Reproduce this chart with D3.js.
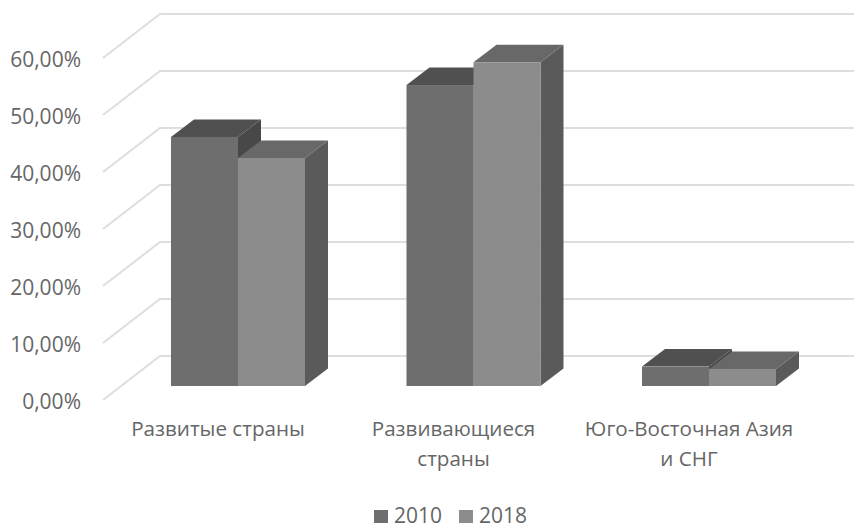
<!DOCTYPE html>
<html>
<head>
<meta charset="utf-8">
<script src="https://cdn.jsdelivr.net/npm/d3@7"></script>
<style>
  html, body { margin: 0; background: #fff; }
  svg { display: block; font-family: "Open Sans", sans-serif; }
  text { fill: #666; }
</style>
</head>
<body>
<script>
// Chart values
const categories = ["Развитые страны", "Развивающиеся страны", "Юго-Восточная Азия и СНГ"];
const categoryLines = [["Развитые страны"], ["Развивающиеся", "страны"], ["Юго-Восточная Азия", "и СНГ"]];
const years = ["2010", "2018"];
const values2010 = [43.7, 52.8, 3.4];
const values2018 = [40.0, 56.8, 3.0];
const tickValues = [0, 10, 20, 30, 40, 50, 60];

const width = 854, height = 525;

// Oblique offset of the fake 3D
const barDepth = [23, -17.5];
const wallDepth = [57, -44];

const svg = d3.select("body").append("svg")
  .attr("width", width)
  .attr("height", height);

// Front edge of the floor, bars stand a bit further in
const yFront = d3.scaleLinear().domain([0, 60]).range([400, 58]);
const yBar = d3.scaleLinear().domain([0, 60]).range([386, 44]);

const xGroup = d3.scaleBand()
  .domain(categories)
  .range([120.25, 826.75])
  .paddingInner(0.431)
  .paddingOuter(0.2155);

const xYear = d3.scaleBand()
  .domain(years)
  .range([0, xGroup.bandwidth()]);

const fills = {
  "2010": { front: "#6e6e6e", top: "#505050", side: "#484848" },
  "2018": { front: "#8c8c8c", top: "#686868", side: "#5a5a5a" }
};

// Gridlines: short slanted piece on the side wall, then along the back wall
const xWall = 103;
svg.append("g").selectAll("path")
  .data(tickValues)
  .join("path")
  .attr("fill", "none")
  .attr("stroke", "#dedede")
  .attr("stroke-width", 2)
  .attr("d", d => d3.line()([
    [xWall, yFront(d)],
    [xWall + wallDepth[0], yFront(d) + wallDepth[1]],
    [width, yFront(d) + wallDepth[1]]
  ]));

// Y axis labels
const yAxis = d3.axisLeft(yFront)
  .tickValues(tickValues)
  .tickSize(0)
  .tickPadding(0)
  .tickFormat(d => d3.format(".2f")(d).replace(".", ",") + "%");

const yAxisG = svg.append("g")
  .attr("transform", "translate(81,2)")
  .call(yAxis);
yAxisG.select(".domain").remove();
yAxisG.selectAll("text")
  .attr("font-size", 21)
  .attr("font-family", "Open Sans")
  .attr("fill", "#666");

// Bars, 2010 first so that 2018 overlaps it
const rows = categories.map((c, i) => ({ category: c, "2010": values2010[i], "2018": values2018[i] }));

const groups = svg.append("g").selectAll("g")
  .data(rows)
  .join("g")
  .attr("transform", d => `translate(${xGroup(d.category)},0)`);

years.forEach(year => {
  const w = xYear.bandwidth();
  const base = yBar(0);
  const col = fills[year];

  groups.append("path")
    .attr("fill", col.side)
    .attr("d", d => {
      const x = xYear(year) + w, top = yBar(d[year]);
      return d3.line()([
        [x, top], [x + barDepth[0], top + barDepth[1]],
        [x + barDepth[0], base + barDepth[1]], [x, base]
      ]) + "Z";
    });

  groups.append("path")
    .attr("fill", col.top)
    .attr("d", d => {
      const x = xYear(year), top = yBar(d[year]);
      return d3.line()([
        [x, top], [x + barDepth[0], top + barDepth[1]],
        [x + w + barDepth[0], top + barDepth[1]], [x + w, top]
      ]) + "Z";
    });

  groups.append("rect")
    .attr("fill", col.front)
    .attr("x", xYear(year))
    .attr("width", w)
    .attr("y", d => yBar(d[year]))
    .attr("height", d => base - yBar(d[year]));
});

// Category labels
const xLabelShift = -20;
const catLabels = svg.append("g").selectAll("text")
  .data(categories)
  .join("text")
  .attr("text-anchor", "middle")
  .attr("font-size", 20.6)
  .attr("y", 436);

catLabels.selectAll("tspan")
  .data((d, i) => categoryLines[i].map(line => ({ line, category: d })))
  .join("tspan")
  .attr("x", d => xGroup(d.category) + xGroup.bandwidth() / 2 + xLabelShift)
  .attr("dy", (d, i) => i ? 30 : 0)
  .text(d => d.line);

// Legend
const xLegend = d3.scalePoint().domain(years).range([374, 459]);
const legend = svg.append("g").selectAll("g")
  .data(years)
  .join("g")
  .attr("transform", d => `translate(${xLegend(d)},0)`);

legend.append("rect")
  .attr("y", 510)
  .attr("width", 14)
  .attr("height", 13)
  .attr("fill", d => fills[d].front);

legend.append("text")
  .attr("x", 20)
  .attr("y", 523)
  .attr("font-size", 21)
  .text(d => d);
</script>
</body>
</html>
